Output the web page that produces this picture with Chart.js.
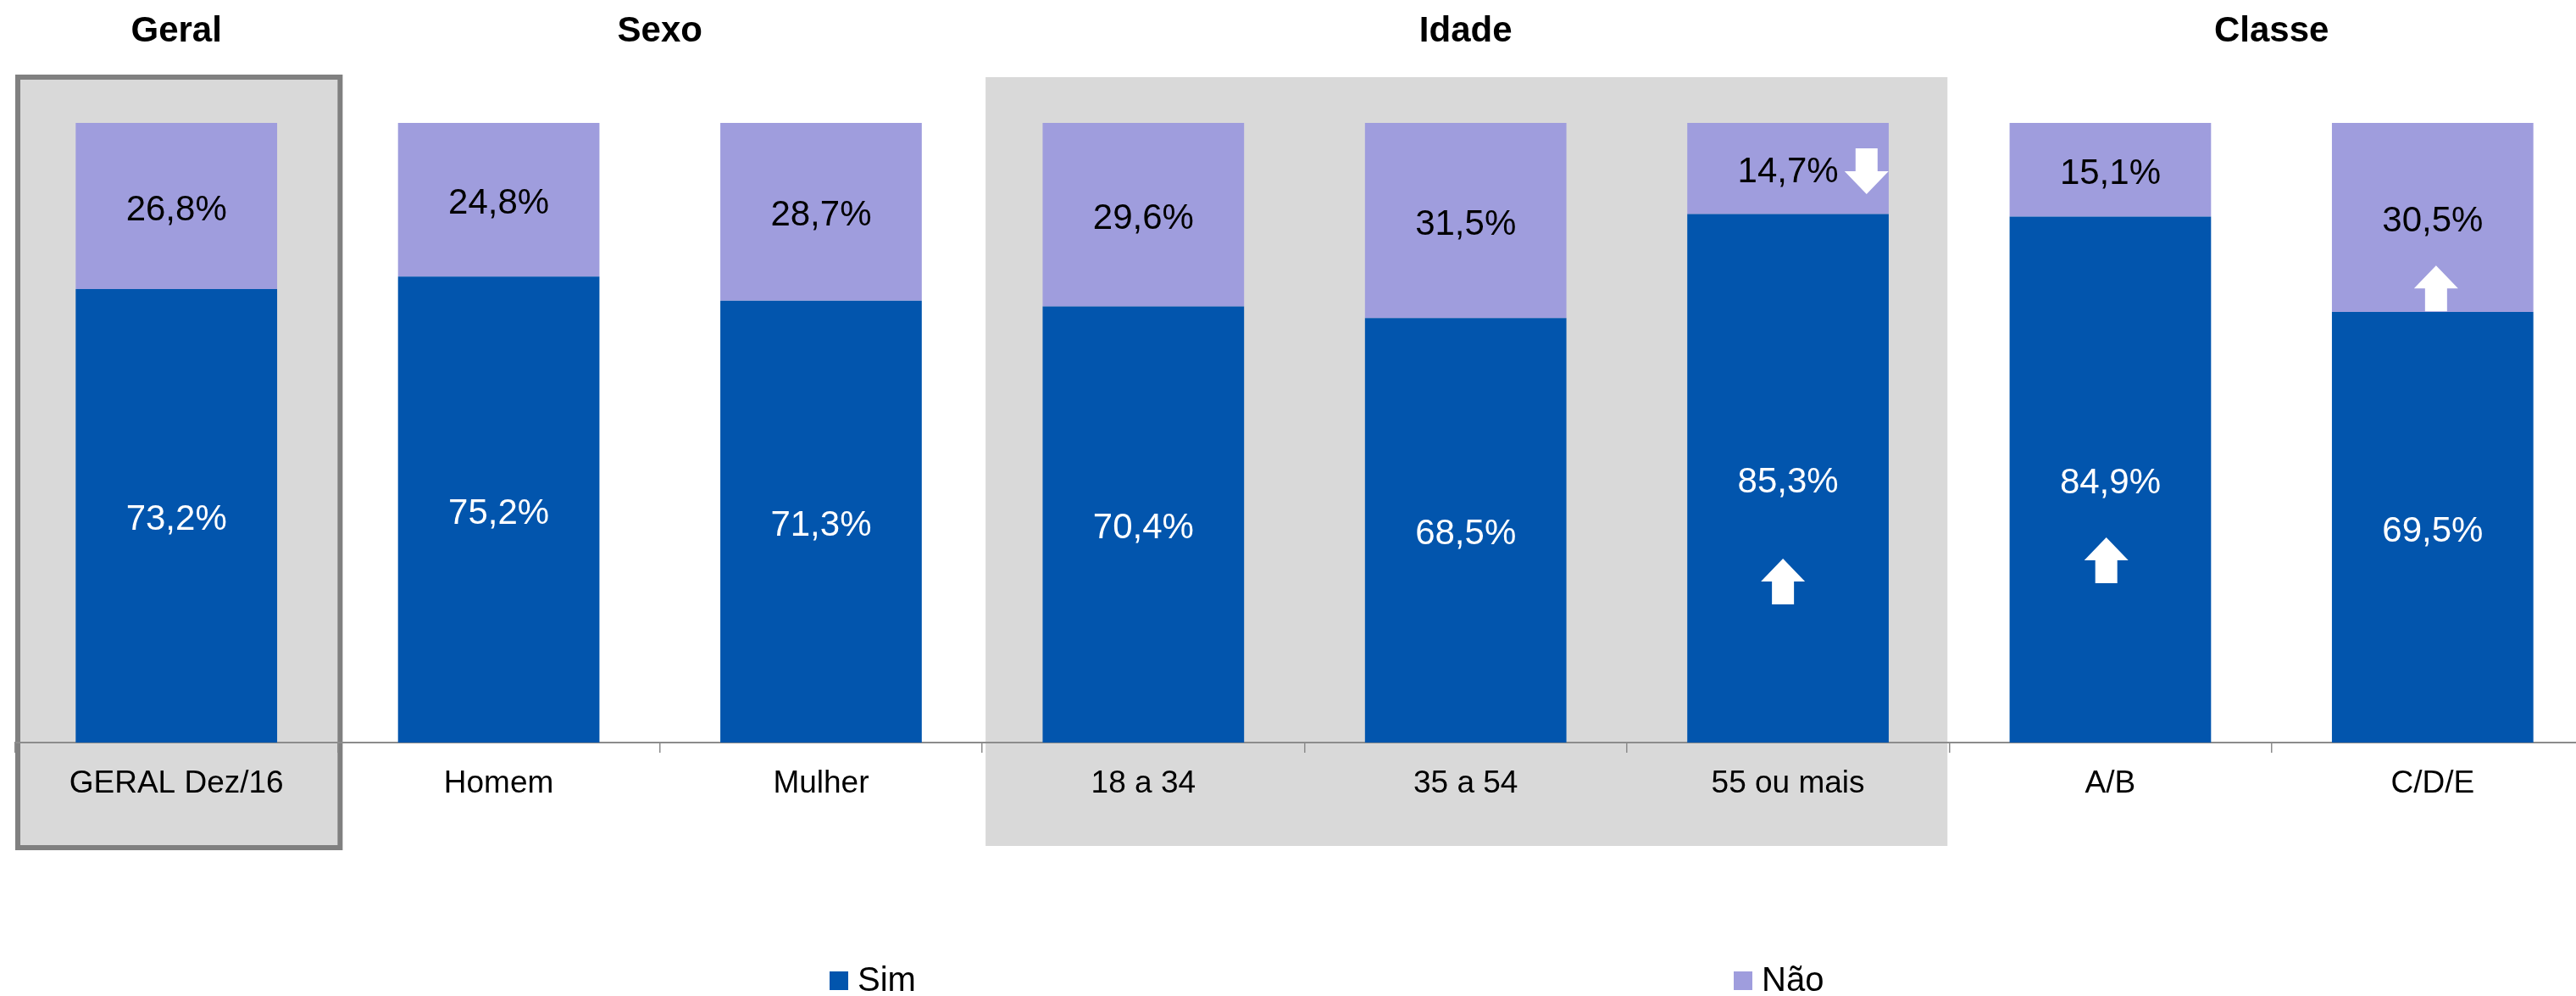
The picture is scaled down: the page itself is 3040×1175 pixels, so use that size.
<!DOCTYPE html>
<html>
<head>
<meta charset="utf-8">
<script src="https://cdn.jsdelivr.net/npm/chart.js@4.4.1/dist/chart.umd.min.js"></script>
<style>
  html, body { margin: 0; padding: 0; background: #fff; overflow: hidden; }
  #wrap { width: 3062px; height: 1175px; }
</style>
</head>
<body>
<div id="wrap"><canvas id="chart" width="3062" height="1175"></canvas></div>
<script>
// categories and values (percent)
const categories = ["GERAL Dez/16", "Homem", "Mulher", "18 a 34", "35 a 54", "55 ou mais", "A/B", "C/D/E"];
const simValues = [73.2, 75.2, 71.3, 70.4, 68.5, 85.3, 84.9, 69.5];
const naoValues = [26.8, 24.8, 28.7, 29.6, 31.5, 14.7, 15.1, 30.5];

// group headers: name, first and last category index
const groupNames = ["Geral", "Sexo", "Idade", "Classe"];
const groupFirst = [0, 1, 3, 6];
const groupLast = [0, 2, 5, 7];

// arrows: category, direction, value where the arrow is centred
const arrowCats = [5, 5, 6, 7];
const arrowDirs = ["down", "up", "up", "up"];
const arrowValues = [92.2, 26.0, 29.4, 73.3];
const arrowShift = [0.39, -0.025, -0.02, 0.017]; // fraction of bar width

const FONT = "'Liberation Sans', Arial, sans-serif";
const SIM_COLOR = "#0255ad";
const NAO_COLOR = "#9f9ddd";

function fmt(v) {
    return v.toFixed(1).replace(".", ",") + "%";
}

// gray boxes behind Geral and Idade, plus headers and legend
const backgroundPlugin = {
    id: "groupBoxes",
    beforeDraw(chart) {
        const ctx = chart.ctx;
        const x = chart.scales.x;
        const half = (x.getPixelForValue(1) - x.getPixelForValue(0)) / 2;
        ctx.save();
        // Idade box
        const i0 = x.getPixelForValue(groupFirst[2]) - half;
        const i1 = x.getPixelForValue(groupLast[2]) + half;
        ctx.fillStyle = "#d9d9d9";
        ctx.fillRect(i0 + 4, 91, i1 - i0 - 6, 907);
        // Geral box with border
        const g0 = x.getPixelForValue(groupFirst[0]) - half;
        const g1 = x.getPixelForValue(groupLast[0]) + half;
        ctx.fillRect(g0 + 3, 91, g1 - g0, 909);
        ctx.strokeStyle = "#808080";
        ctx.lineWidth = 6;
        ctx.strokeRect(g0 + 3, 91, g1 - g0, 909);
        ctx.restore();
    },
    afterDraw(chart) {
        const ctx = chart.ctx;
        const x = chart.scales.x;
        ctx.save();
        ctx.font = "bold 42px " + FONT;
        ctx.fillStyle = "#000";
        ctx.textAlign = "center";
        ctx.textBaseline = "middle";
        groupNames.forEach((name, i) => {
            const cx = (x.getPixelForValue(groupFirst[i]) + x.getPixelForValue(groupLast[i])) / 2;
            ctx.fillText(name, cx, 37);
        });

        // legend, spread out as in the original
        const legendX = [979, 2046];
        ctx.font = "40px " + FONT;
        ctx.textAlign = "left";
        ctx.textBaseline = "alphabetic";
        chart.data.datasets.forEach((ds, i) => {
            ctx.fillStyle = ds.backgroundColor;
            ctx.fillRect(legendX[i], 1146, 22, 22);
            ctx.fillStyle = "#000";
            ctx.fillText(ds.label, legendX[i] + 33, 1169);
        });
        ctx.restore();
    }
};

// value labels and arrows on the bars
const labelPlugin = {
    id: "barLabels",
    afterDatasetsDraw(chart) {
        const ctx = chart.ctx;
        ctx.save();
        ctx.font = "42px " + FONT;
        ctx.textAlign = "center";
        ctx.textBaseline = "middle";
        chart.data.datasets.forEach((ds, di) => {
            const meta = chart.getDatasetMeta(di);
            meta.data.forEach((bar, i) => {
                const p = bar.getProps(["x", "y", "base"], true);
                ctx.fillStyle = di === 0 ? "#fff" : "#000";
                ctx.fillText(fmt(ds.data[i]), p.x, (p.y + p.base) / 2 + 5);
            });
        });

        // arrows
        const y = chart.scales.y;
        const meta0 = chart.getDatasetMeta(0);
        ctx.fillStyle = "#fff";
        arrowCats.forEach((c, k) => {
            const bar = meta0.data[c].getProps(["x", "width"], true);
            const cx = bar.x + arrowShift[k] * bar.width;
            const cy = y.getPixelForValue(arrowValues[k]);
            const w = 52, h = 54, sw = 26, hh = 27;
            const dir = arrowDirs[k] === "up" ? -1 : 1;
            const tip = cy + dir * h / 2;
            const tail = cy - dir * h / 2;
            const neck = tip - dir * hh;
            ctx.beginPath();
            ctx.moveTo(cx, tip);
            ctx.lineTo(cx + w / 2, neck);
            ctx.lineTo(cx + sw / 2, neck);
            ctx.lineTo(cx + sw / 2, tail);
            ctx.lineTo(cx - sw / 2, tail);
            ctx.lineTo(cx - sw / 2, neck);
            ctx.lineTo(cx - w / 2, neck);
            ctx.closePath();
            ctx.fill();
        });
        ctx.restore();
    }
};

new Chart(document.getElementById("chart"), {
    type: "bar",
    data: {
        labels: categories,
        datasets: [
            { label: "Sim", data: simValues, backgroundColor: SIM_COLOR },
            { label: "Não", data: naoValues, backgroundColor: NAO_COLOR }
        ]
    },
    options: {
        responsive: false,
        animation: false,
        events: [],
        categoryPercentage: 1,
        barPercentage: 0.625,
        layout: { padding: { left: 18, right: 1, top: 145, bottom: 219 } },
        plugins: {
            legend: { display: false },
            tooltip: { enabled: false }
        },
        scales: {
            x: {
                stacked: true,
                afterFit(scale) { scale.height = 80; },
                grid: {
                    display: true,
                    drawOnChartArea: false,
                    drawTicks: true,
                    tickLength: 12,
                    color: "#8c8c8c",
                    lineWidth: 1.5
                },
                border: { display: true, color: "#8c8c8c", width: 2 },
                ticks: {
                    color: "#000",
                    padding: 15,
                    font: { family: FONT, size: 37 },
                    maxRotation: 0,
                    autoSkip: false
                }
            },
            y: {
                stacked: true,
                display: false,
                min: 0,
                max: 100
            }
        }
    },
    plugins: [backgroundPlugin, labelPlugin]
});
</script>
</body>
</html>
